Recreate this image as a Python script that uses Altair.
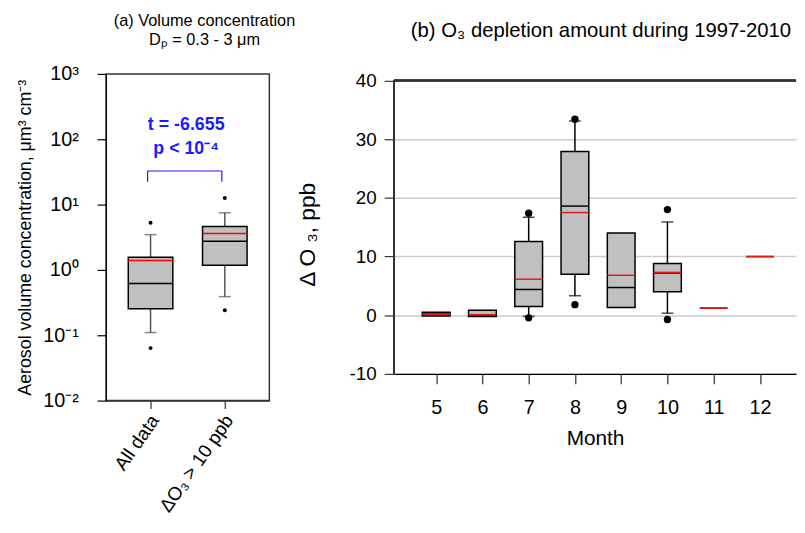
import altair as alt
import pandas as pd

FONT = "Liberation Sans"

# ---------------- Panel (a): volume concentration ----------------
a_groups = ["All data", "ΔO₃ > 10 ppb"]
a_pos = [1, 2]
a_whisk_lo = [0.11, 0.39]
a_q1 = [0.254, 1.18]
a_median = [0.62, 2.75]
a_mean = [1.40, 3.60]
a_q3 = [1.57, 4.64]
a_whisk_hi = [3.47, 7.48]
a_out_pos = [1, 1, 2, 2]
a_out_val = [5.28, 0.0636, 12.6, 0.242]
a_ticks = [0.01, 0.1, 1, 10, 100, 1000]
a_tick_labels = ["10⁻²", "10⁻¹", "10⁰", "10¹", "10²", "10³"]
a_stat_lines = ["t = -6.655", "p < 10⁻⁴"]
a_stat_y = [165, 71]
a_bracket_lo = 22.3
a_bracket_hi = 32.7

# ---------------- Panel (b): O3 depletion by month ----------------
months = [5, 6, 7, 8, 9, 10, 11, 12]
b_q1 = [-0.15, -0.2, 1.47, 6.98, 1.3, 4.0, 1.2, 10.0]
b_q3 = [0.5, 0.85, 12.55, 27.9, 14.0, 8.83, 1.2, 10.0]
b_median = [0.2, 0.05, 4.39, 18.6, 4.72, 7.2, 1.2, 10.0]
b_mean = [0.17, 0.1, 6.14, 17.5, 6.81, 7.3, 1.2, 10.0]
b_whisk_month = [7, 8, 10]
b_whisk_lo = [-0.2, 3.32, 0.34]
b_whisk_hi = [16.7, 33.1, 15.9]
b_out_month = [7, 7, 8, 8, 10, 10]
b_out_val = [17.4, -0.45, 33.4, 1.8, 18.0, -0.73]
b_box_months = [5, 6, 7, 8, 9, 10]
b_yticks = [-10, 0, 10, 20, 30, 40]

HALF = 0.3
BLUE = "#1a1aff"
BOXFILL = "#c0c0c0"

# ---------- data frames ----------
a_df = pd.DataFrame({"pos": a_pos, "grp": a_groups, "lo": a_whisk_lo, "q1": a_q1,
                     "med": a_median, "mean": a_mean, "q3": a_q3, "hi": a_whisk_hi})
a_out = pd.DataFrame({"pos": a_out_pos, "val": a_out_val})
a_txt = pd.DataFrame({"t": a_stat_lines, "y": a_stat_y})
a_br = pd.DataFrame({"pos": a_pos, "lo": [a_bracket_lo] * 2, "hi": [a_bracket_hi] * 2})

label_arr = "[" + ",".join("'" + s + "'" for s in a_tick_labels) + "]"

xsc_a = alt.Scale(domain=[0.4, 2.6], nice=False, zero=False, padding=0)
ax_axis = alt.Axis(values=a_pos, title=None,
                   labelExpr="datum.value == 1 ? 'All data' : 'ΔO₃ > 10 ppb'",
                   labelAngle=-55, labelAlign="right", labelBaseline="middle",
                   labelFontSize=19, labelPadding=8, labelOffset=4, tickSize=8, tickColor="#555",
                   tickWidth=1.5, domainColor="#333", domainWidth=1.5, grid=False,
                   labelColor="black", labelFont=FONT)
ysc_a = alt.Scale(type="log", domain=[0.01, 1000], nice=False, padding=0)
ay_axis = alt.Axis(values=a_ticks, title="Aerosol volume concentration, μm³ cm⁻³",
                   labelExpr=label_arr + "[round(log(datum.value)/LN10)+2]",
                   labelFontSize=20, labelPadding=19, tickSize=9, tickColor="black",
                   tickWidth=1.2, domainColor="black", grid=False, labelColor="black",
                   labelFont=FONT, titleFont=FONT, titleFontSize=18, titleFontWeight="normal",
                   titleColor="black", titlePadding=8)

base_a = alt.Chart(a_df).transform_calculate(x0=f"datum.pos - {HALF}", x1=f"datum.pos + {HALF}")

a_whisk = alt.Chart(a_df).mark_rule(color="#555", strokeWidth=1.5).encode(
    x=alt.X("pos:Q", scale=xsc_a, axis=ax_axis),
    y=alt.Y("lo:Q", scale=ysc_a, axis=ay_axis), y2="hi:Q")
a_caps_lo = alt.Chart(a_df).mark_tick(orient="horizontal", size=12, thickness=1.5, color="#555").encode(
    x="pos:Q", y="lo:Q")
a_caps_hi = alt.Chart(a_df).mark_tick(orient="horizontal", size=12, thickness=1.5, color="#555").encode(
    x="pos:Q", y="hi:Q")
a_box = base_a.mark_bar(fill=BOXFILL, stroke="black", strokeWidth=1.5).encode(
    x="x0:Q", x2="x1:Q", y="q1:Q", y2="q3:Q")
a_med = base_a.mark_rule(color="black", strokeWidth=1.5).encode(x="x0:Q", x2="x1:Q", y="med:Q")
a_mn = base_a.mark_rule(color="red", strokeWidth=1.5).encode(x="x0:Q", x2="x1:Q", y="mean:Q")
a_pts = alt.Chart(a_out).mark_circle(size=16, color="black", opacity=1).encode(x="pos:Q", y="val:Q")

a_br_v = alt.Chart(a_br).transform_calculate(px="datum.pos - 0.04").mark_rule(
    color=BLUE, strokeWidth=1.2).encode(x="px:Q", y="lo:Q", y2="hi:Q")
a_br_h = alt.Chart(a_br).transform_calculate(px="datum.pos - 0.04").transform_aggregate(
    xa="min(px)", xb="max(px)", yy="max(hi)").mark_rule(color=BLUE, strokeWidth=1.2).encode(
    x="xa:Q", x2="xb:Q", y="yy:Q")
a_text = alt.Chart(a_txt).mark_text(color=BLUE, fontSize=18, fontWeight="bold", font=FONT,
                                    baseline="middle").encode(x=alt.datum(1.48), y="y:Q", text="t:N")

left = alt.layer(a_whisk, a_caps_lo, a_caps_hi, a_box, a_med, a_mn, a_pts, a_br_v, a_br_h, a_text).properties(
    width=165, height=330,
    title=alt.TitleParams(["(a) Volume concentration", "Dₚ = 0.3 - 3 μm"], fontSize=16.5,
                          font=FONT, fontWeight="normal", color="black", anchor="middle",
                          dx=17, offset=16, lineHeight=19),
    view=alt.ViewBackground(stroke="#333", strokeWidth=1.5))

# ---------- panel b ----------
b_df = pd.DataFrame({"m": months, "q1": b_q1, "q3": b_q3, "med": b_median, "mean": b_mean})
b_box_df = b_df[b_df["m"].isin(b_box_months)]
b_wh = pd.DataFrame({"m": b_whisk_month, "lo": b_whisk_lo, "hi": b_whisk_hi})
b_out = pd.DataFrame({"m": b_out_month, "val": b_out_val})

B_XMIN, B_XMAX = 4.09, 12.78
B_YMIN, B_YTOP, B_YMAX = -10, 40, 41.13
xsc_b = alt.Scale(domain=[B_XMIN, B_XMAX], nice=False, zero=False, padding=0)
ysc_b = alt.Scale(domain=[B_YMIN, B_YMAX], nice=False, zero=False, padding=0)
bx_axis = alt.Axis(values=months, title="Month", labelFontSize=20, titleFontSize=21,
                   titleFontWeight="normal", labelFont=FONT, titleFont=FONT, labelColor="black",
                   titleColor="black", tickSize=10, tickColor="#555", tickWidth=1.5,
                   domainColor="black", domainWidth=1.5, grid=False, labelPadding=14,
                   titlePadding=10, format="d")
by_axis = alt.Axis(values=b_yticks, title="Δ O ₃, ppb", labelFontSize=19,
                   labelExpr="'' + datum.value",
                   titleFontSize=23, titleFontWeight="normal", labelFont=FONT, titleFont=FONT,
                   labelColor="black", titleColor="black", tickSize=10, tickColor="#333",
                   tickWidth=1.2, domain=False, grid=True, titleY=162,
                   gridColor="#cccccc", gridWidth=1.5, labelPadding=8, titlePadding=30)

b_grid = alt.Chart(b_df).mark_rule(opacity=0).encode(
    x=alt.X("m:Q", scale=xsc_b, axis=bx_axis), y=alt.Y("med:Q", scale=ysc_b, axis=by_axis))
b_top = alt.Chart(b_df).mark_rule(color="#333", strokeWidth=1.5).encode(y=alt.datum(B_YTOP))
b_left = alt.Chart(b_df).mark_rule(color="#333", strokeWidth=1.5).encode(
    x=alt.datum(B_XMIN), y=alt.datum(B_YMIN), y2=alt.datum(B_YTOP))
b_whisk = alt.Chart(b_wh).mark_rule(color="black", strokeWidth=1.5).encode(x="m:Q", y="lo:Q", y2="hi:Q")
b_caps_lo = alt.Chart(b_wh).mark_tick(orient="horizontal", size=12, thickness=1.5, color="black").encode(
    x="m:Q", y="lo:Q")
b_caps_hi = alt.Chart(b_wh).mark_tick(orient="horizontal", size=12, thickness=1.5, color="black").encode(
    x="m:Q", y="hi:Q")
base_b = alt.Chart(b_box_df).transform_calculate(x0=f"datum.m - {HALF}", x1=f"datum.m + {HALF}")
b_box = base_b.mark_bar(fill=BOXFILL, stroke="black", strokeWidth=1.5).encode(
    x="x0:Q", x2="x1:Q", y="q1:Q", y2="q3:Q")
base_b2 = alt.Chart(b_df).transform_calculate(x0=f"datum.m - {HALF}", x1=f"datum.m + {HALF}")
b_med = base_b2.mark_rule(color="black", strokeWidth=1.5).encode(x="x0:Q", x2="x1:Q", y="med:Q")
b_mn = base_b2.mark_rule(color="#e41a1a", strokeWidth=1.5).encode(x="x0:Q", x2="x1:Q", y="mean:Q")
b_pts = alt.Chart(b_out).mark_circle(size=55, color="black", opacity=1).encode(x="m:Q", y="val:Q")

right = alt.layer(b_grid, b_top, b_left, b_whisk, b_caps_lo, b_caps_hi, b_box, b_med, b_mn, b_pts).properties(
    width=406, height=303,
    title=alt.TitleParams("(b) O₃ depletion amount during 1997-2010", fontSize=20.5, font=FONT,
                          fontWeight="normal", color="black", anchor="middle", offset=30, dx=6),
    view=alt.ViewBackground(stroke=None))

chart = alt.hconcat(left, right, spacing=126, bounds="flush").properties(
    padding={"left": 8, "top": 1, "right": 0, "bottom": 0}
).configure(font=FONT)

chart.save("out.html", embed_options={"renderer": "svg", "actions": False})
